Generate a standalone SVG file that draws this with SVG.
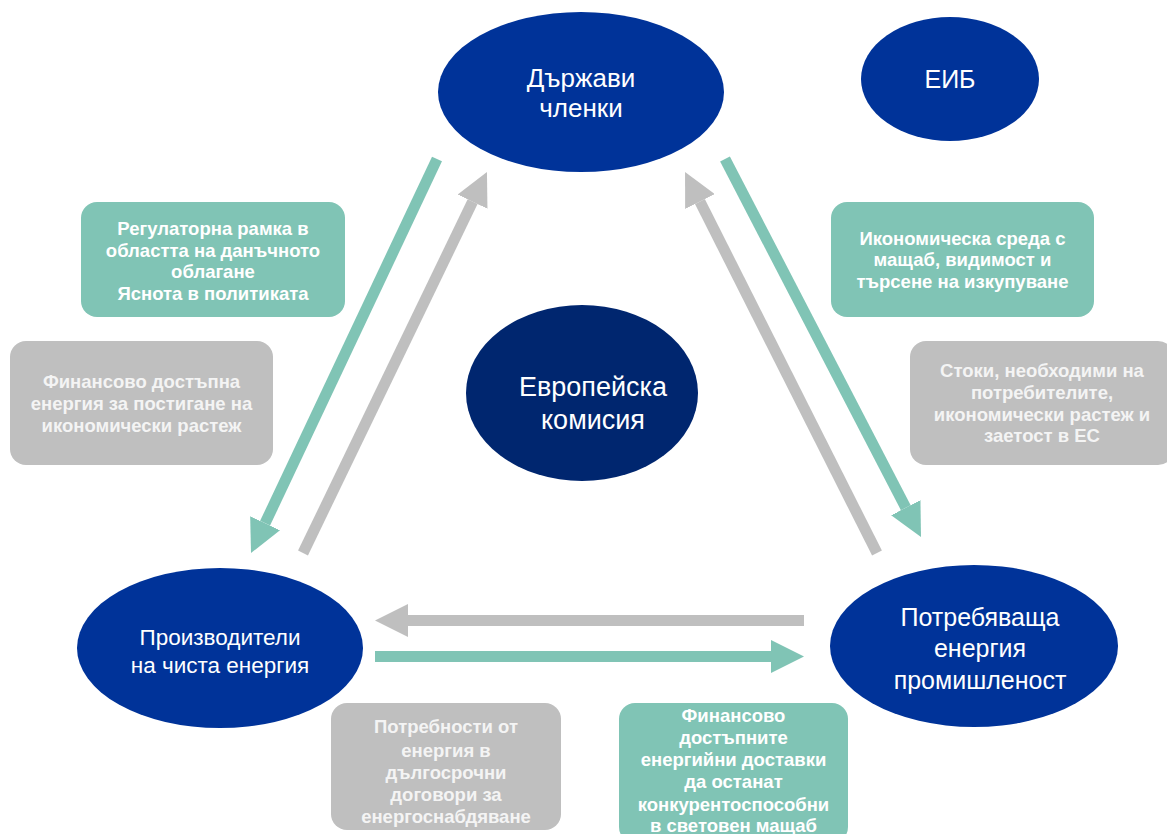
<svg xmlns="http://www.w3.org/2000/svg" width="1167" height="834" viewBox="0 0 1167 834">
<defs>
<style>
.node{fill:#003399}
.ec{fill:#00266F}
.nt{font-family:"Liberation Sans",Arial,sans-serif;fill:#ffffff;text-anchor:middle}
.bg{fill:#80C4B5}
.bx{fill:#BFBFBF}
.bt{font-family:"Liberation Sans",Arial,sans-serif;font-weight:bold;font-size:18.5px;text-anchor:middle;fill:#ffffff}
.btg{font-family:"Liberation Sans",Arial,sans-serif;font-weight:bold;font-size:18.5px;text-anchor:middle;fill:#F4F4F4}
.ag{stroke:#80C4B5;stroke-width:11;fill:none}
.ay{stroke:#BFBFBF;stroke-width:11;fill:none}
</style>
<marker id="hg" viewBox="0 0 3 3" refX="0" refY="1.5" markerWidth="3" markerHeight="3" orient="auto" markerUnits="strokeWidth">
<path d="M0,0 L3,1.5 L0,3 z" fill="#80C4B5"/>
</marker>
<marker id="hy" viewBox="0 0 3 3" refX="0" refY="1.5" markerWidth="3" markerHeight="3" orient="auto" markerUnits="strokeWidth">
<path d="M0,0 L3,1.5 L0,3 z" fill="#BFBFBF"/>
</marker>
</defs>
<rect width="1167" height="834" fill="#ffffff"/>

<g id="connectors">
<line class="ag" x1="437" y1="159" x2="265.1" y2="523.2" marker-end="url(#hg)"/>
<line class="ay" x1="303" y1="553" x2="472.6" y2="201.7" marker-end="url(#hy)"/>
<line class="ag" x1="725" y1="159" x2="905.8" y2="507.7" marker-end="url(#hg)"/>
<line class="ay" x1="877" y1="553" x2="699.9" y2="201.5" marker-end="url(#hy)"/>
<line class="ay" x1="804" y1="620.5" x2="408" y2="620.5" marker-end="url(#hy)"/>
<line class="ag" x1="375" y1="656.5" x2="771" y2="656.5" marker-end="url(#hg)"/>
</g>

<g id="member-states">
<ellipse class="node" cx="581" cy="92" rx="143" ry="80"/>
<text class="nt" font-size="26" x="581" y="87">Държави</text>
<text class="nt" font-size="26" x="581" y="117">членки</text>
</g>

<g id="eib">
<ellipse class="node" cx="950" cy="79" rx="89" ry="62"/>
<text class="nt" font-size="25" x="950" y="88">ЕИБ</text>
</g>

<g id="commission">
<ellipse class="ec" cx="582" cy="393" rx="116" ry="88"/>
<text class="nt" font-size="27" x="593" y="396">Европейска</text>
<text class="nt" font-size="27" x="593" y="429">комисия</text>
</g>

<g id="producers">
<ellipse class="node" cx="220" cy="648" rx="143" ry="80"/>
<text class="nt" font-size="22.5" x="220" y="645">Производители</text>
<text class="nt" font-size="22.5" x="220" y="673">на чиста енергия</text>
</g>

<g id="industry">
<ellipse class="node" cx="974" cy="646" rx="144" ry="81"/>
<text class="nt" font-size="25" x="980" y="626">Потребяваща</text>
<text class="nt" font-size="25" x="980" y="657">енергия</text>
<text class="nt" font-size="25" x="980" y="689">промишленост</text>
</g>

<g id="box-regulatory">
<rect class="bg" x="81" y="202" width="264" height="115" rx="16"/>
<text class="bt" x="213" y="235">Регулаторна рамка в</text>
<text class="bt" x="213" y="257">областта на данъчното</text>
<text class="bt" x="213" y="278">облагане</text>
<text class="bt" x="213" y="300">Яснота в политиката</text>
</g>

<g id="box-affordable">
<rect class="bx" x="10" y="341" width="263" height="124" rx="16"/>
<text class="btg" x="141.5" y="388">Финансово достъпна</text>
<text class="btg" x="141.5" y="410">енергия за постигане на</text>
<text class="btg" x="141.5" y="432">икономически растеж</text>
</g>

<g id="box-economic">
<rect class="bg" x="831" y="202" width="263" height="115" rx="16"/>
<text class="bt" x="962.5" y="245">Икономическа среда с</text>
<text class="bt" x="962.5" y="266">мащаб, видимост и</text>
<text class="bt" x="962.5" y="288">търсене на изкупуване</text>
</g>

<g id="box-goods">
<rect class="bx" x="910" y="341" width="264" height="124" rx="16"/>
<text class="btg" x="1042" y="377">Стоки, необходими на</text>
<text class="btg" x="1042" y="399">потребителите,</text>
<text class="btg" x="1042" y="421">икономически растеж и</text>
<text class="btg" x="1042" y="442">заетост в ЕС</text>
</g>

<g id="box-needs">
<rect class="bx" x="331" y="703" width="230" height="127" rx="16"/>
<text class="btg" x="446" y="733">Потребности от</text>
<text class="btg" x="446" y="757">енергия в</text>
<text class="btg" x="446" y="779">дългосрочни</text>
<text class="btg" x="446" y="801">договори за</text>
<text class="btg" x="446" y="823">енергоснабдяване</text>
</g>

<g id="box-supplies">
<rect class="bg" x="619" y="703" width="229" height="140" rx="16"/>
<text class="bt" x="733.5" y="722">Финансово</text>
<text class="bt" x="733.5" y="744">достъпните</text>
<text class="bt" x="733.5" y="766">енергийни доставки</text>
<text class="bt" x="733.5" y="788">да останат</text>
<text class="bt" x="733.5" y="811">конкурентоспособни</text>
<text class="bt" x="733.5" y="832">в световен мащаб</text>
</g>
</svg>
